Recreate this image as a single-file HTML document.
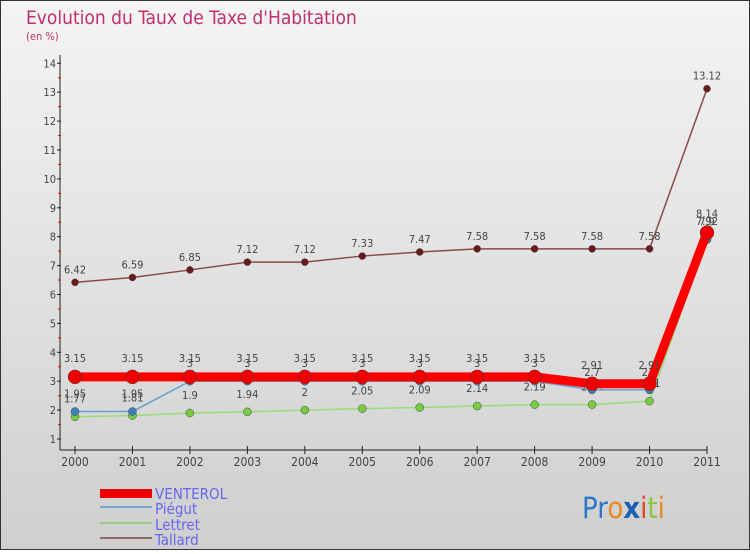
<!DOCTYPE html>
<html><head><meta charset="utf-8"><style>
body{margin:0;width:750px;height:550px;overflow:hidden;font-family:"DejaVu Sans Condensed","Liberation Sans",sans-serif}
svg text{font-family:"DejaVu Sans Condensed","Liberation Sans",sans-serif}
</style></head><body>
<svg id="c" width="750" height="550" xmlns="http://www.w3.org/2000/svg">
<defs><linearGradient id="bg" x1="0" y1="0" x2="0" y2="1"><stop offset="0" stop-color="#f4f4f4"/><stop offset="1" stop-color="#cfcfcf"/></linearGradient></defs>
<rect x="0.5" y="0.5" width="749" height="549" fill="url(#bg)" stroke="#333"/>
<text x="26" y="24" font-size="19" fill="#c0306a">Evolution du Taux de Taxe d'Habitation</text>
<text x="26" y="40" font-size="11" fill="#c0306a">(en %)</text>
<g id="axes"></g><g id="series"></g>
<g>
<rect x="100" y="489" width="52" height="9" fill="#e00"/>
<text x="155" y="499" font-size="15" fill="#6666ee">VENTEROL</text>
<line x1="100" y1="507" x2="152" y2="507" stroke="#7aa7cc" stroke-width="2"/>
<text x="155" y="514" font-size="15" fill="#6666ee">Piégut</text>
<line x1="100" y1="523" x2="152" y2="523" stroke="#99cc77" stroke-width="2"/>
<text x="155" y="530" font-size="15" fill="#6666ee">Lettret</text>
<line x1="100" y1="538" x2="152" y2="538" stroke="#8a6a6a" stroke-width="2"/>
<text x="155" y="545" font-size="15" fill="#6666ee">Tallard</text>
</g>
<g font-size="29" font-family="Liberation Sans">
<text x="582" y="518"><tspan fill="#2a78c8">P</tspan><tspan fill="#2a78c8">r</tspan><tspan fill="#e98a1c">o</tspan><tspan fill="#1a5fb0" font-weight="bold">x</tspan><tspan fill="#e0452a">i</tspan><tspan fill="#8cc63f">t</tspan><tspan fill="#e98a1c">i</tspan></text>
</g>
</svg>
<script>
const years=[2000,2001,2002,2003,2004,2005,2006,2007,2008,2009,2010,2011];
const venterol=[3.15,3.15,3.15,3.15,3.15,3.15,3.15,3.15,3.15,2.91,2.91,8.14];
const piegut=[1.95,1.95,3,3,3,3,3,3,3,2.7,2.7,7.92];
const lettret=[1.77,1.81,1.9,1.94,2,2.05,2.09,2.14,2.19,2.19,2.31,7.9];
const tallard=[6.42,6.59,6.85,7.12,7.12,7.33,7.47,7.58,7.58,7.58,7.58,13.12];
const yTicks=[1,2,3,4,5,6,7,8,9,10,11,12,13,14];
const NS="http://www.w3.org/2000/svg";
const X=i=>75+i*(707-75)/(years.length-1);
const Y=v=>439-(v-1)*28.9;
function mk(p,t,a){const e=document.createElementNS(NS,t);for(const k in a)e.setAttribute(k,a[k]);p.appendChild(e);return e;}
const ax=document.getElementById('axes'),sr=document.getElementById('series');
let yl=mk(ax,'line',{x1:60,y1:55,x2:60,y2:450,stroke:'#222'});

let xl=mk(ax,'line',{x1:60,y1:450,x2:707,y2:450,stroke:'#222'});

yTicks.forEach(v=>{
 mk(ax,'line',{x1:57,y1:Y(v),x2:61,y2:Y(v),stroke:'#222'});
 if(v<14) mk(ax,'line',{x1:58,y1:Y(v+0.5),x2:61,y2:Y(v+0.5),stroke:'#e00'});
 const t=mk(ax,'text',{x:56,y:Y(v)+4,'font-size':11,fill:'#444','text-anchor':'end'});t.textContent=v;
 
});
years.forEach((y,i)=>{
 mk(ax,'line',{x1:X(i),y1:446,x2:X(i),y2:454,stroke:'#222'});
 const t=mk(ax,'text',{x:X(i),y:466,'font-size':12,fill:'#444','text-anchor':'middle'});t.textContent=y;
 
});
function series(d,name,color,w,r,fill,labelDy){
 const g=mk(sr,'g',{});
 
 const pl=mk(g,'polyline',{points:d.map((v,i)=>X(i)+','+Y(v)).join(' '),fill:'none',stroke:color,'stroke-width':w,'stroke-linejoin':'round'});
 
 d.forEach((v,i)=>{
  const c=mk(g,'circle',{cx:X(i),cy:Y(v),r:r,fill:fill,stroke:'#444','stroke-width':0.5});
  
  const t=mk(g,'text',{x:X(i),y:Y(v)+labelDy,'font-size':11,fill:'#444','text-anchor':'middle'});t.textContent=v;
  
 });
}
series(tallard,'tallard','#8a4a4a',1.5,3.5,'#6a1a1a',-9);
series(lettret,'lettret','#99dd77',1.5,4,'#77cc44',-14);
series(piegut,'piegut','#6aa0cc',1.5,4,'#3a80c0',-14);
series(venterol,'venterol','#f00',9,7,'#e00',-15);
</script>
</body></html>
